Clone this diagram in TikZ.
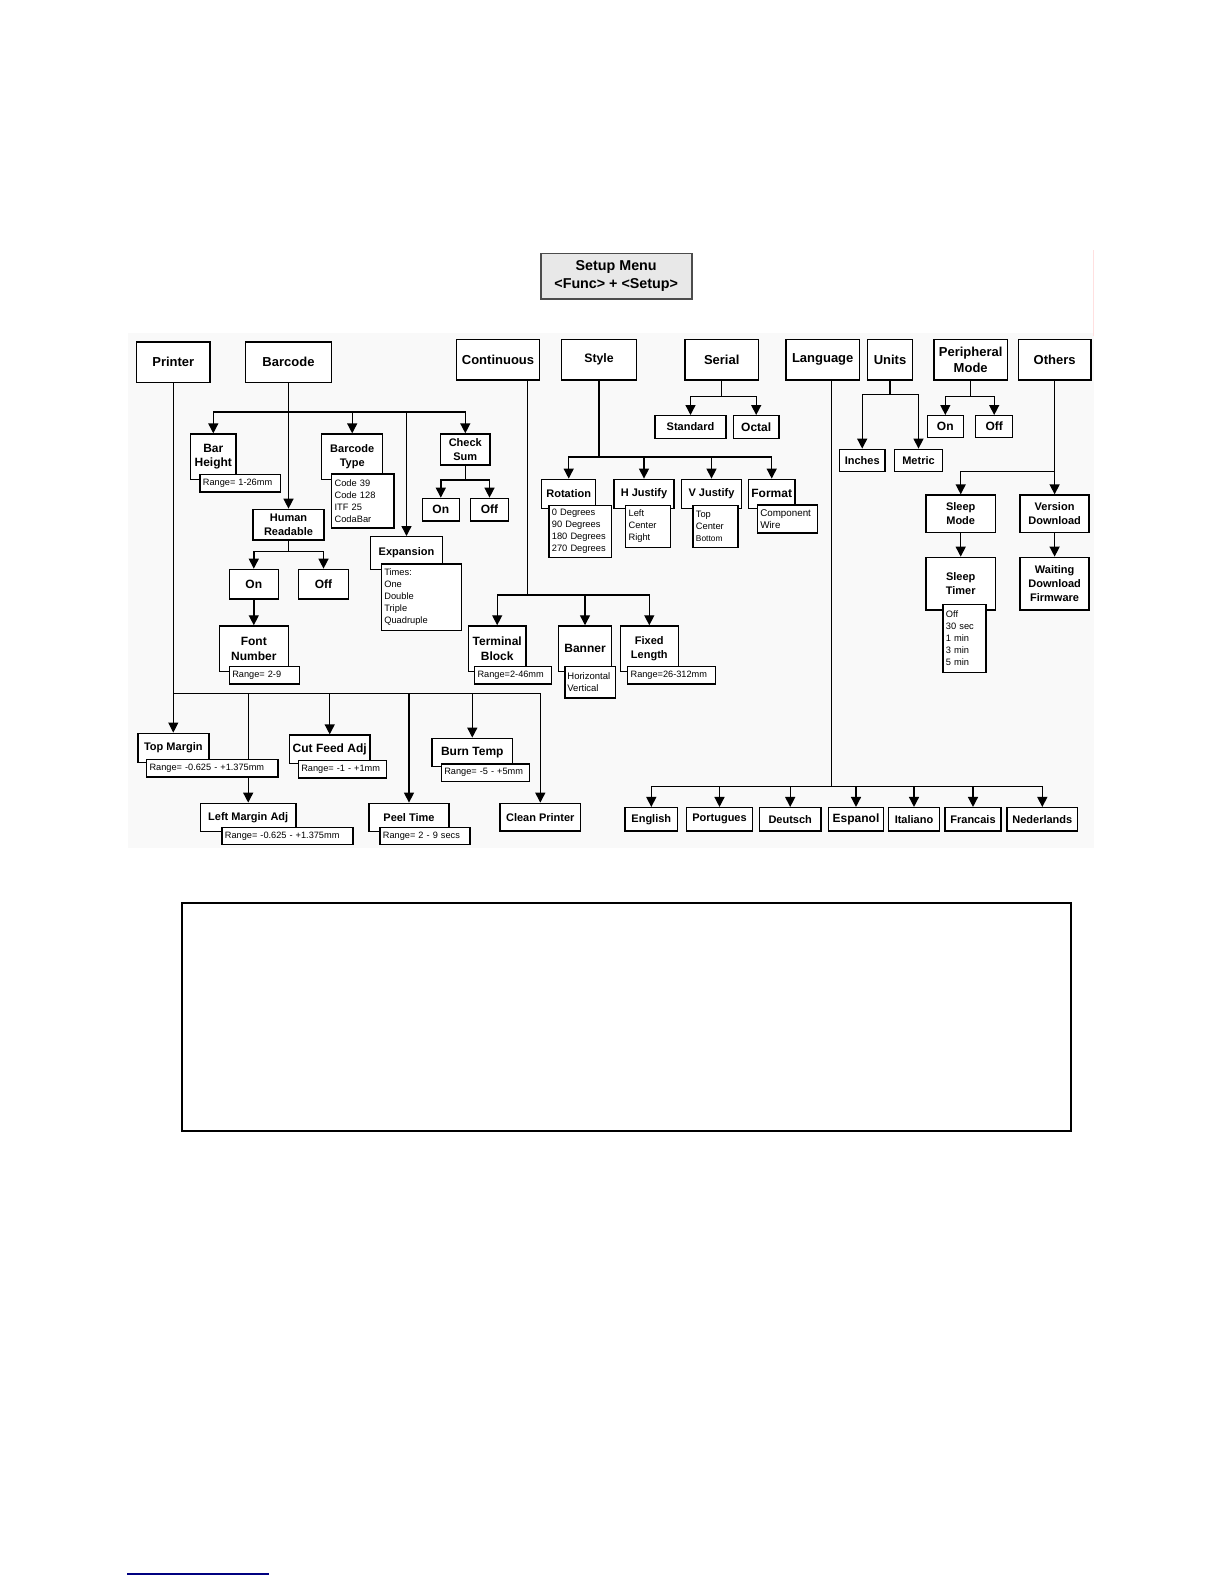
\documentclass[tikz,border=0pt]{standalone}
\usepackage{fontspec}
\setmainfont{Liberation Sans}
\usetikzlibrary{arrows.meta}
\hyphenpenalty=10000

\tikzset{
  menubox/.style={draw, line width=1.4pt, fill=white, align=center, inner sep=0pt,
    font=\fontsize{13}{16}\selectfont\bfseries},
  midbox/.style={menubox, font=\fontsize{12}{14.5}\selectfont\bfseries},
  smallbox/.style={menubox, font=\fontsize{11}{14}\selectfont\bfseries},
  rangebox/.style={draw, line width=1.2pt, fill=white, anchor=north west, align=left,
    inner xsep=3pt, inner ysep=0pt, minimum height=17.3pt,
    font=\fontsize{9.2}{12}\selectfont},
  listbox/.style={draw, line width=1.2pt, fill=white, anchor=north west, align=left,
    inner xsep=3pt, inner ysep=2pt, font=\fontsize{9.3}{12}\selectfont},
  link/.style={line width=1.4pt}
}

\begin{document}
\begin{tikzpicture}[x=1pt, y=-1pt, >={Triangle[length=10pt,width=10pt]}]
    \useasboundingbox (0,0) rectangle (1224,1584);
    \fill[black!2.5] (128,333) rectangle (1094,848);
    \draw[red!12, line width=0.8pt] (1093,250) -- (1093,336);

    % top of the menu
    \node[menubox, fill=gray!18, draw=gray!60!black, line width=1.6pt,
          minimum width=151pt, minimum height=45.7pt,
          font=\fontsize{14.3}{18}\selectfont\bfseries] (setup) at (616.2,276.2)
        {Setup Menu\\<Func> + <Setup>};

    \node[menubox, minimum width=73.3pt, minimum height=40.7pt] (printer) at (173.3,362.3) {Printer};
    \node[menubox, minimum width=86.4pt, minimum height=40.7pt] (barcode) at (288.5,362.3) {Barcode};
    \node[menubox, minimum width=82.6pt, minimum height=40.5pt] (continuous) at (498,359.8) {Continuous};
    \node[menubox, minimum width=75.4pt, minimum height=40.5pt, font=\fontsize{12.3}{15}\selectfont\bfseries] (style) at (599,359.8) {Style};
    \node[menubox, minimum width=73.3pt, minimum height=40.5pt] (serial) at (721.7,359.8) {Serial};
    \node[menubox, minimum width=73.3pt, minimum height=40.5pt] (language) at (822.7,359.8) {Language};
    \node[menubox, minimum width=45.4pt, minimum height=40.5pt] (units) at (890,359.8) {Units};
    \node[menubox, minimum width=73.3pt, minimum height=40.5pt] (periph) at (970.7,359.8) {Peripheral\\Mode};
    \node[menubox, minimum width=72.7pt, minimum height=40.5pt] (others) at (1054.6,359.8) {Others};

    % barcode branch
    \node[midbox, minimum width=45.3pt, minimum height=45.3pt] (barh) at (213.3,456.7) {Bar\\Height};
    \node[smallbox, minimum width=61pt, minimum height=45.3pt] (bctype) at (352.2,456.7) {Barcode\\Type};
    \node[smallbox, minimum width=49.3pt, minimum height=31pt] (chksum) at (465.3,449.5) {Check\\Sum};
    \node[midbox, minimum width=37pt, minimum height=22.7pt] (chkon) at (440.8,509.7) {On};
    \node[midbox, minimum width=37.6pt, minimum height=22.7pt] (chkoff) at (489.5,509.7) {Off};
    \node[smallbox, minimum width=71.3pt, minimum height=30.7pt] (human) at (288.5,524.7) {Human\\Readable};
    \node[smallbox, minimum width=71.6pt, minimum height=32.6pt] (expan) at (406.5,553) {Expansion};
    \node[midbox, minimum width=49pt, minimum height=29.7pt] (hron) at (253.8,584.2) {On};
    \node[midbox, minimum width=49.6pt, minimum height=29.7pt] (hroff) at (323.5,584.2) {Off};
    \node[midbox, minimum width=69pt, minimum height=45.7pt] (fontnum) at (253.8,648.8) {Font\\Number};

    % printer branch
    \node[smallbox, minimum width=71pt, minimum height=29pt] (topm) at (173.3,747.8) {Top Margin};
    \node[midbox, minimum width=80.7pt, minimum height=28.3pt] (cutfeed) at (329.7,749.2) {Cut Feed Adj};
    \node[midbox, minimum width=80.7pt, minimum height=28.4pt] (burn) at (472.3,752.5) {Burn Temp};
    \node[smallbox, minimum width=95.7pt, minimum height=28.4pt] (leftm) at (248.2,817.5) {Left Margin Adj};
    \node[smallbox, minimum width=80pt, minimum height=28.4pt] (peel) at (409,817.5) {Peel Time};
    \node[smallbox, minimum width=80.7pt, minimum height=27.7pt] (clean) at (540.3,817.2) {Clean Printer};

    % continuous branch
    \node[midbox, minimum width=57.7pt, minimum height=45.7pt] (term) at (497.2,648.8) {Terminal\\Block};
    \node[midbox, minimum width=53.4pt, minimum height=45.7pt] (banner) at (585,648.8) {Banner};
    \node[smallbox, minimum width=58pt, minimum height=45.7pt] (fixed) at (649.3,648.8) {Fixed\\Length};

    % style branch
    \node[smallbox, minimum width=54pt, minimum height=29pt] (rot) at (568.7,493.8) {Rotation};
    \node[smallbox, minimum width=60pt, minimum height=29pt] (hjust) at (644,493.8) {H Justify};
    \node[smallbox, minimum width=60.4pt, minimum height=29pt] (vjust) at (711.5,493.8) {V Justify};
    \node[midbox, minimum width=46.7pt, minimum height=29pt] (format) at (771.7,493.8) {Format};

    % serial, units, peripheral
    \node[smallbox, minimum width=71pt, minimum height=22.6pt] (std) at (690.5,427) {Standard};
    \node[midbox, minimum width=45.7pt, minimum height=22.6pt] (octal) at (756.2,427) {Octal};
    \node[smallbox, minimum width=45.7pt, minimum height=22.4pt] (inches) at (862.2,460.5) {Inches};
    \node[smallbox, minimum width=48.4pt, minimum height=22.4pt] (metric) at (918.5,460.5) {Metric};
    \node[midbox, minimum width=36pt, minimum height=21.6pt] (pon) at (945.3,426.5) {On};
    \node[midbox, minimum width=37pt, minimum height=21.6pt] (poff) at (994.2,426.5) {Off};

    % others branch
    \node[smallbox, minimum width=69.3pt, minimum height=37.3pt] (sleepm) at (960.7,513.7) {Sleep\\Mode};
    \node[smallbox, minimum width=69pt, minimum height=37.3pt] (version) at (1054.6,513.7) {Version\\Download};
    \node[smallbox, minimum width=69.3pt, minimum height=52.7pt] (sleept) at (960.7,583.7) {Sleep\\Timer};
    \node[smallbox, minimum width=69pt, minimum height=52.7pt] (waiting) at (1054.6,583.7) {Waiting\\Download\\Firmware};

    % language branch
    \node[smallbox, minimum width=52.7pt, minimum height=23.3pt] (english) at (651.3,819.3) {English};
    \node[smallbox, minimum width=65.6pt, minimum height=23.3pt] (portugues) at (719.5,819.3) {Portugues};
    \node[smallbox, minimum width=61.7pt, minimum height=23.3pt] (deutsch) at (790.2,819.3) {Deutsch};
    \node[midbox, minimum width=54.6pt, minimum height=23.3pt] (espanol) at (856,819.3) {Espanol};
    \node[smallbox, minimum width=50.6pt, minimum height=23.3pt] (italiano) at (914,819.3) {Italiano};
    \node[smallbox, minimum width=56pt, minimum height=23.3pt] (francais) at (973,819.3) {Francais};
    \node[smallbox, minimum width=70.7pt, minimum height=23.3pt] (nederlands) at (1042.3,819.3) {Nederlands};

    % connectors
    \coordinate (pbus) at (173.3,693.3);
    \draw[link] (printer) -- (pbus);
    \draw[->, line width=1pt] (pbus) -- (topm);
    \draw[->, link] (pbus) -| (leftm.north);
    \draw[->, link] (pbus) -| (cutfeed.north);
    \draw[->, link] (pbus) -| (peel.north);
    \draw[->, link] (pbus) -| (burn.north);
    \draw[->, link] (pbus) -| (clean.north);

    \coordinate (bbus) at (288.5,412);
    \draw[->, link] (barcode) -- (human);
    \draw[->, link] (bbus) -| (barh.north);
    \draw[->, link] (bbus) -| (bctype.north);
    \draw[->, link] (bbus) -| (expan.north);
    \draw[->, link] (bbus) -| (chksum.north);
    \draw[->, link] (chksum.south) -- ++(0,14.3) -| (chkon.north);
    \draw[->, link] (chksum.south) -- ++(0,14.3) -| (chkoff.north);
    \draw[->, link] (human.south) -- ++(0,10.7) -| (hron.north);
    \draw[->, link] (human.south) -- ++(0,10.7) -| (hroff.north);
    \draw[->, link] (hron) -- (fontnum);

    \coordinate (cbus) at (527.3,595);
    \draw[link] (continuous.south -| cbus) -- (cbus);
    \draw[->, link] (cbus) -| (term.north);
    \draw[->, link] (cbus) -| (banner.north);
    \draw[->, link] (cbus) -| (fixed.north);

    \coordinate (sbus) at (599,457);
    \draw[link] (style) -- (sbus);
    \draw[->, link] (sbus) -| (rot.north);
    \draw[->, link] (sbus) -| (hjust.north);
    \draw[->, link] (sbus) -| (vjust.north);
    \draw[->, link] (sbus) -| (format.north);

    \draw[->, link] (serial.south) -- ++(0,16) -| (std.north);
    \draw[->, link] (serial.south) -- ++(0,16) -| (octal.north);
    \draw[->, link] (units.south) -- ++(0,14) -| (inches.north);
    \draw[->, link] (units.south) -- ++(0,14) -| (metric.north);
    \draw[->, link] (periph.south) -- ++(0,16) -| (pon.north);
    \draw[->, link] (periph.south) -- ++(0,16) -| (poff.north);

    \coordinate (obus) at (1054.6,471.7);
    \draw[->, link] (others) -- (version);
    \draw[->, link] (obus) -| (sleepm.north);
    \draw[->, link] (sleepm) -- (sleept);
    \draw[->, link] (version) -- (waiting);

    \coordinate (lbus) at (831.7,786.7);
    \draw[link] (language.south -| lbus) -- (lbus);
    \draw[->, link] (lbus) -| (english.north);
    \draw[->, link] (lbus) -| (portugues.north);
    \draw[->, link] (lbus) -| (deutsch.north);
    \draw[->, link] (lbus) -| (espanol.north);
    \draw[->, link] (lbus) -| (italiano.north);
    \draw[->, link] (lbus) -| (francais.north);
    \draw[->, link] (lbus) -| (nederlands.north);

    % ranges and choice lists, over the boxes
    \node[rangebox, text width=74.7pt] (barhrange) at (199.3,474) {Range= 1-26mm};
    \node[listbox, text width=56.3pt, minimum height=54pt] (bclist) at (331,473.3)
        {Code 39\\Code 128\\ITF 25\\CodaBar};
    \node[listbox, text width=74pt, minimum height=66.7pt] (expanlist) at (380.7,563.3)
        {Times:\\One\\Double\\Triple\\Quadruple};
    \node[rangebox, text width=64.3pt] (fontrange) at (228.7,666) {Range= 2-9};
    \node[rangebox, text width=125.3pt] (topmrange) at (146,759) {Range= -0.625 - +1.375mm};
    \node[rangebox, text width=82.3pt] (cutrange) at (297.7,760) {Range= -1 - +1mm};
    \node[rangebox, text width=82.3pt] (burnrange) at (440.7,763.3) {Range= -5 - +5mm};
    \node[rangebox, text width=125pt] (leftmrange) at (221.3,826.7) {Range= -0.625 - +1.375mm};
    \node[rangebox, text width=84pt] (peelrange) at (379.3,826.7) {Range= 2 - 9 secs};
    \node[rangebox, text width=70.7pt] (termrange) at (474,666) {Range=2-46mm};
    \node[listbox, inner xsep=2.5pt, text width=45.7pt, minimum height=31.3pt,
          font=\fontsize{9.5}{12}\selectfont] (bannerlist) at (564.3,666) {Horizontal\\Vertical};
    \node[rangebox, text width=82pt] (fixedrange) at (627,666) {Range=26-312mm};
    \node[listbox, text width=56.4pt, minimum height=51.7pt] (rotlist) at (548.3,505)
        {0 Degrees\\90 Degrees\\180 Degrees\\270 Degrees};
    \node[listbox, text width=39pt, minimum height=41.7pt] (hjustlist) at (625,505)
        {Left\\Center\\Right};
    \node[listbox, text width=39pt, minimum height=41.7pt] (vjustlist) at (692.3,505)
        {Top\\Center\\{\fontsize{8.4}{12}\selectfont Bottom}};
    \node[listbox, text width=54pt, minimum height=28pt,
          font=\fontsize{9.8}{12}\selectfont] (formatlist) at (756.7,504.3) {Component\\Wire};
    \node[listbox, text width=37pt, minimum height=67.7pt] (sleeplist) at (942.3,604)
        {Off\\30 sec\\1 min\\3 min\\5 min};

    % empty frame and footnote rule
    \draw[line width=1.1pt] (182,903) rectangle (1071,1131);
    \draw[blue!50!black, line width=1.3pt] (127,1574) -- (269,1574);
\end{tikzpicture}
\end{document}
